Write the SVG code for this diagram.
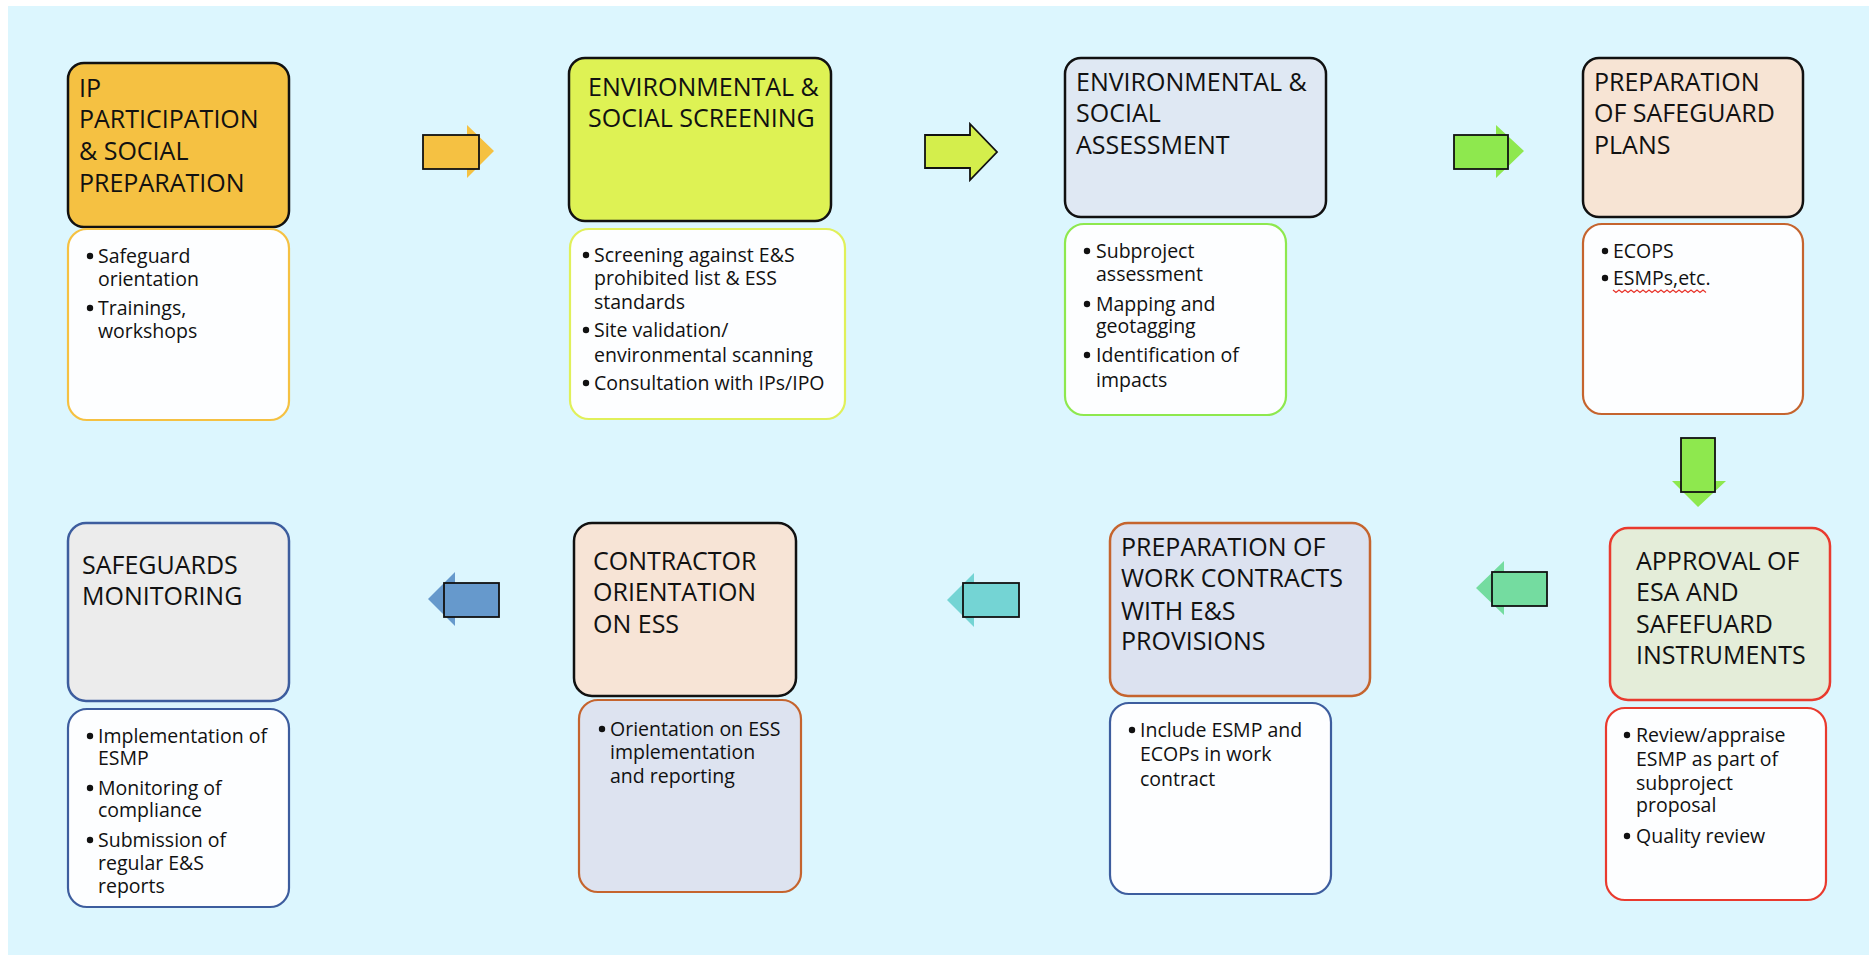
<svg xmlns="http://www.w3.org/2000/svg" width="1869" height="955" viewBox="0 0 1869 955">
<style>
.h{font-family:"Open Sans","Liberation Sans",sans-serif;font-size:25px;fill:#111;font-weight:500}
.b{font-family:"Open Sans","Liberation Sans",sans-serif;font-size:19.5px;fill:#111;font-weight:500}
.hd{stroke-width:2.5}
.bd{stroke-width:2.2}
.dot{fill:#111}
</style>
<rect x="0" y="0" width="1869" height="955" fill="#ffffff"/>
<rect x="8" y="6" width="1861" height="949" fill="#dcf6fe"/>

<g id="connectors">
  <g id="a1">
    <polygon points="423,135 467,135 467,125 494,151 467,178 467,169 423,169" fill="#f5c142"/>
    <rect x="423" y="135" width="56" height="34" fill="#f5c142" stroke="#111" stroke-width="1.8"/>
  </g>
  <g id="a2">
    <polygon points="925,135 970,135 970,124 997,152 970,180 970,168 925,168" fill="#d4ee4c" stroke="#111" stroke-width="1.8"/>
  </g>
  <g id="a3">
    <polygon points="1454,135 1496,135 1496,125 1524,151 1496,178 1496,169 1454,169" fill="#8ee84e"/>
    <rect x="1454" y="135" width="54" height="34" fill="#8ee84e" stroke="#111" stroke-width="1.8"/>
  </g>
  <g id="a4">
    <polygon points="1681,438 1715,438 1715,481 1726,481 1698,507 1672,481 1681,481" fill="#8ee84e"/>
    <rect x="1681" y="438" width="34" height="54" fill="#8ee84e" stroke="#111" stroke-width="1.8"/>
  </g>
  <g id="a5">
    <polygon points="1547,572 1504,572 1504,561 1476,588 1504,615 1504,606 1547,606" fill="#74dca0"/>
    <rect x="1492" y="572" width="55" height="34" fill="#74dca0" stroke="#111" stroke-width="1.8"/>
  </g>
  <g id="a6">
    <polygon points="1019,583 974,583 974,573 947,600 974,627 974,617 1019,617" fill="#74d4d4"/>
    <rect x="963" y="583" width="56" height="34" fill="#74d4d4" stroke="#111" stroke-width="1.8"/>
  </g>
  <g id="a7">
    <polygon points="499,583 455,583 455,572 428,599 455,626 455,617 499,617" fill="#6699cc"/>
    <rect x="444" y="583" width="55" height="34" fill="#6699cc" stroke="#111" stroke-width="1.8"/>
  </g>
</g>

<g id="n1">
  <rect class="hd" x="68" y="63" width="221" height="164" rx="16" fill="#f5c142" stroke="#111"/>
  <text class="h" x="79" y="97">IP</text>
  <text class="h" x="79" y="128">PARTICIPATION</text>
  <text class="h" x="79" y="160">&amp; SOCIAL</text>
  <text class="h" x="79" y="192">PREPARATION</text>
  <rect class="bd" x="68" y="229" width="221" height="191" rx="19" fill="#fdfeff" stroke="#f5c142"/>
  <circle class="dot" cx="90" cy="256" r="3.2"/><text class="b" x="98" y="263">Safeguard</text>
  <text class="b" x="98" y="286">orientation</text>
  <circle class="dot" cx="90" cy="308" r="3.2"/><text class="b" x="98" y="315">Trainings,</text>
  <text class="b" x="98" y="338">workshops</text>
</g>

<g id="n2">
  <rect class="hd" x="569" y="58" width="262" height="163" rx="16" fill="#def254" stroke="#111"/>
  <text class="h" x="588" y="96">ENVIRONMENTAL &amp;</text>
  <text class="h" x="588" y="127">SOCIAL SCREENING</text>
  <rect class="bd" x="570" y="229" width="275" height="190" rx="19" fill="#fdfeff" stroke="#e0f05a"/>
  <circle class="dot" cx="586" cy="255" r="3.2"/><text class="b" x="594" y="262">Screening against E&amp;S</text>
  <text class="b" x="594" y="285">prohibited list &amp; ESS</text>
  <text class="b" x="594" y="309">standards</text>
  <circle class="dot" cx="586" cy="330" r="3.2"/><text class="b" x="594" y="337">Site validation/</text>
  <text class="b" x="594" y="362">environmental scanning</text>
  <circle class="dot" cx="586" cy="383" r="3.2"/><text class="b" x="594" y="390">Consultation with IPs/IPO</text>
</g>

<g id="n3">
  <rect class="hd" x="1065" y="58" width="261" height="159" rx="16" fill="#dfe8f3" stroke="#111"/>
  <text class="h" x="1076" y="91">ENVIRONMENTAL &amp;</text>
  <text class="h" x="1076" y="122">SOCIAL</text>
  <text class="h" x="1076" y="154">ASSESSMENT</text>
  <rect class="bd" x="1065" y="224" width="221" height="191" rx="19" fill="#fdfeff" stroke="#8ee84e"/>
  <circle class="dot" cx="1087" cy="251" r="3.2"/><text class="b" x="1096" y="258">Subproject</text>
  <text class="b" x="1096" y="281">assessment</text>
  <circle class="dot" cx="1087" cy="304" r="3.2"/><text class="b" x="1096" y="311">Mapping and</text>
  <text class="b" x="1096" y="333">geotagging</text>
  <circle class="dot" cx="1087" cy="355" r="3.2"/><text class="b" x="1096" y="362">Identification of</text>
  <text class="b" x="1096" y="387">impacts</text>
</g>

<g id="n4">
  <rect class="hd" x="1583" y="58" width="220" height="159" rx="16" fill="#f7e4d4" stroke="#111"/>
  <text class="h" x="1594" y="91">PREPARATION</text>
  <text class="h" x="1594" y="122">OF SAFEGUARD</text>
  <text class="h" x="1594" y="154">PLANS</text>
  <rect class="bd" x="1583" y="224" width="220" height="190" rx="19" fill="#fdfeff" stroke="#c5642e"/>
  <circle class="dot" cx="1605" cy="251" r="3.2"/><text class="b" x="1613" y="258">ECOPS</text>
  <circle class="dot" cx="1605" cy="278" r="3.2"/><text class="b" x="1613" y="285">ESMPs,etc.</text>
  <path d="M1613,290 l3,2.5 l3,-2.5 l3,2.5 l3,-2.5 l3,2.5 l3,-2.5 l3,2.5 l3,-2.5 l3,2.5 l3,-2.5 l3,2.5 l3,-2.5 l3,2.5 l3,-2.5 l3,2.5 l3,-2.5 l3,2.5 l3,-2.5 l3,2.5 l3,-2.5 l3,2.5 l3,-2.5 l3,2.5 l3,-2.5 l3,2.5 l3,-2.5 l3,2.5 l3,-2.5 l3,2.5 l3,-2.5 l3,2.5" fill="none" stroke="#e8332a" stroke-width="1.2"/>
</g>

<g id="n5">
  <rect class="hd" x="1610" y="528" width="220" height="172" rx="18" fill="#e4edd9" stroke="#e93a2e"/>
  <text class="h" x="1636" y="570">APPROVAL OF</text>
  <text class="h" x="1636" y="601">ESA AND</text>
  <text class="h" x="1636" y="633">SAFEFUARD</text>
  <text class="h" x="1636" y="664">INSTRUMENTS</text>
  <rect class="bd" x="1606" y="708" width="220" height="192" rx="19" fill="#fdfeff" stroke="#e93a2e"/>
  <circle class="dot" cx="1627" cy="735" r="3.2"/><text class="b" x="1636" y="742">Review/appraise</text>
  <text class="b" x="1636" y="766">ESMP as part of</text>
  <text class="b" x="1636" y="790">subproject</text>
  <text class="b" x="1636" y="812">proposal</text>
  <circle class="dot" cx="1627" cy="836" r="3.2"/><text class="b" x="1636" y="843">Quality review</text>
</g>

<g id="n6">
  <rect class="hd" x="1110" y="523" width="260" height="173" rx="18" fill="#dce2f0" stroke="#c5642e"/>
  <text class="h" x="1121" y="556">PREPARATION OF</text>
  <text class="h" x="1121" y="587">WORK CONTRACTS</text>
  <text class="h" x="1121" y="620">WITH E&amp;S</text>
  <text class="h" x="1121" y="650">PROVISIONS</text>
  <rect class="bd" x="1110" y="703" width="221" height="191" rx="19" fill="#fdfeff" stroke="#3d5d9e"/>
  <circle class="dot" cx="1132" cy="730" r="3.2"/><text class="b" x="1140" y="737">Include ESMP and</text>
  <text class="b" x="1140" y="761">ECOPs in work</text>
  <text class="b" x="1140" y="786">contract</text>
</g>

<g id="n7">
  <rect class="hd" x="574" y="523" width="222" height="173" rx="18" fill="#f7e4d6" stroke="#111"/>
  <text class="h" x="593" y="570">CONTRACTOR</text>
  <text class="h" x="593" y="601">ORIENTATION</text>
  <text class="h" x="593" y="633">ON ESS</text>
  <rect class="bd" x="579" y="700" width="222" height="192" rx="19" fill="#dde3f0" stroke="#c5642e"/>
  <circle class="dot" cx="602" cy="729" r="3.2"/><text class="b" x="610" y="736">Orientation on ESS</text>
  <text class="b" x="610" y="759">implementation</text>
  <text class="b" x="610" y="783">and reporting</text>
</g>

<g id="n8">
  <rect class="hd" x="68" y="523" width="221" height="178" rx="18" fill="#ececec" stroke="#3d5d9e"/>
  <text class="h" x="82" y="574">SAFEGUARDS</text>
  <text class="h" x="82" y="605">MONITORING</text>
  <rect class="bd" x="68" y="709" width="221" height="198" rx="19" fill="#fdfeff" stroke="#3d5d9e"/>
  <circle class="dot" cx="90" cy="736" r="3.2"/><text class="b" x="98" y="743">Implementation of</text>
  <text class="b" x="98" y="765">ESMP</text>
  <circle class="dot" cx="90" cy="788" r="3.2"/><text class="b" x="98" y="795">Monitoring of</text>
  <text class="b" x="98" y="817">compliance</text>
  <circle class="dot" cx="90" cy="840" r="3.2"/><text class="b" x="98" y="847">Submission of</text>
  <text class="b" x="98" y="870">regular E&amp;S</text>
  <text class="b" x="98" y="893">reports</text>
</g>
</svg>
